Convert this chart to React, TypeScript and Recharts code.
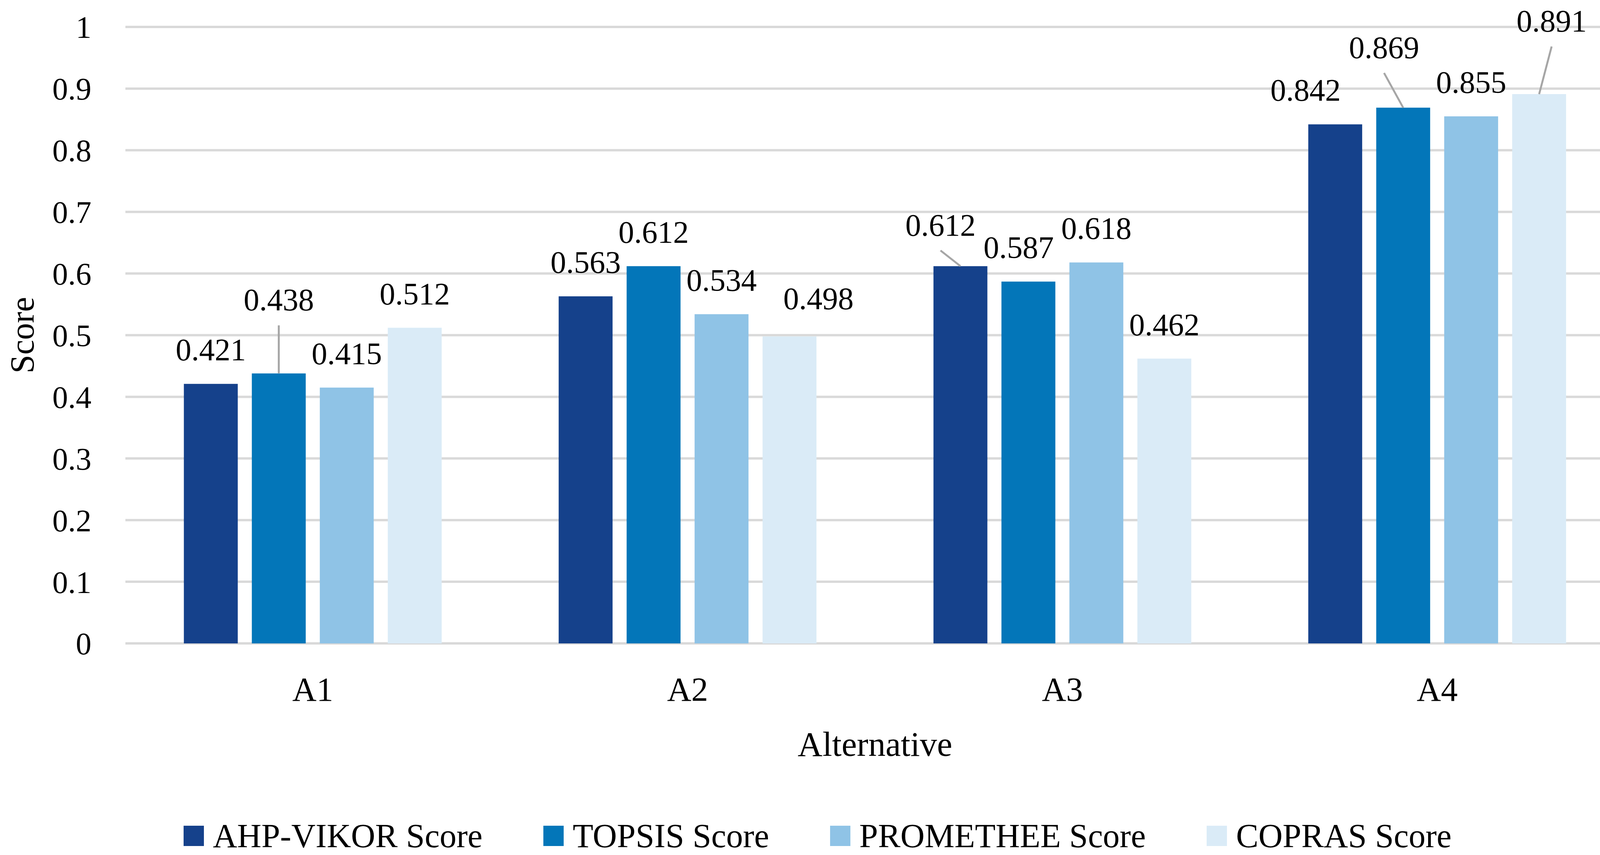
import React from 'react';
import { BarChart, Bar, XAxis, YAxis, CartesianGrid, Legend } from 'recharts';

const categories = ['A1', 'A2', 'A3', 'A4'];
const ahpVikorScore = [0.421, 0.563, 0.612, 0.842];
const topsisScore = [0.438, 0.612, 0.587, 0.869];
const prometheeScore = [0.415, 0.534, 0.618, 0.855];
const coprasScore = [0.512, 0.498, 0.462, 0.891];
const yTicks = [0, 0.1, 0.2, 0.3, 0.4, 0.5, 0.6, 0.7, 0.8, 0.9, 1];

const SERIES = [
    { key: 'ahp', name: 'AHP-VIKOR Score', color: '#15418B', values: ahpVikorScore },
    { key: 'topsis', name: 'TOPSIS Score', color: '#0376B9', values: topsisScore },
    { key: 'promethee', name: 'PROMETHEE Score', color: '#8FC3E6', values: prometheeScore },
    { key: 'copras', name: 'COPRAS Score', color: '#DAEBF7', values: coprasScore },
];

const chartData = categories.map((name, i) => {
    const row: { [key: string]: any } = { name };
    SERIES.forEach((s) => {
        row[s.key] = s.values[i];
    });
    return row;
});

const W = 4186;
const H = 2190;
const FONT = "'Liberation Serif', 'Times New Roman', serif";
const NUM_FS = 80; // numbers: ticks and data labels
const TXT_FS = 86; // words: legend, titles

// Labels that were moved by hand in the original (Excel) chart, in px
const LABEL_NUDGE: { [key: string]: { dx: number; dy: number; leader?: boolean } } = {
    'topsis-0': { dx: 0, dy: -101, leader: true },
    'copras-1': { dx: 74, dy: -10 },
    'ahp-2': { dx: -51, dy: -18, leader: true },
    'topsis-2': { dx: -25, dy: 0 },
    'ahp-3': { dx: -76, dy: 0 },
    'topsis-3': { dx: -49, dy: -67, leader: true },
    'copras-3': { dx: 32, dy: -100, leader: true },
};

const makeLabel = (seriesKey: string) => (props: any) => {
    const vb = props.viewBox || props;
    const x = Number(vb.x ?? props.x);
    const y = Number(vb.y ?? props.y);
    const width = Number(vb.width ?? props.width);
    const height = Number(vb.height ?? props.height);
    if ([x, y, width].some((v) => isNaN(v))) return null;
    const top = height < 0 ? y + height : y;
    const cx = x + width / 2;
    const nudge = LABEL_NUDGE[`${seriesKey}-${props.index}`] || { dx: 0, dy: 0 };
    const lx = cx + nudge.dx;
    const baseline = top - 60 + nudge.dy;
    return (
        <g>
            {nudge.leader && (
                <line x1={cx} y1={top} x2={lx} y2={baseline + 38} stroke="#A6A6A6" strokeWidth={5} />
            )}
            <text x={lx} y={baseline} textAnchor="middle" fill="#000" style={{ fontSize: NUM_FS, fontFamily: FONT }}>
                {Number(props.value).toFixed(3)}
            </text>
        </g>
    );
};

const LegendContent = () => (
    <div
        style={{
            display: 'flex',
            justifyContent: 'center',
            alignItems: 'center',
            height: 98,
            fontFamily: FONT,
            fontSize: TXT_FS,
            color: '#000',
        }}
    >
        {SERIES.map((s, i) => (
            <div key={s.key} style={{ display: 'flex', alignItems: 'center', marginLeft: i ? 156 : 0 }}>
                <span style={{ display: 'inline-block', width: 52, height: 52, background: s.color, marginRight: 23 }} />
                <span style={{ lineHeight: 1, whiteSpace: 'nowrap' }}>{s.name}</span>
            </div>
        ))}
    </div>
);

const YTitle = (props: any) => {
    const vb = props.viewBox || {};
    const cy = (vb.y ?? 0) + (vb.height ?? 0) / 2;
    return (
        <text x={86} y={cy} transform={`rotate(-90, 86, ${cy})`} textAnchor="middle" fill="#000" style={{ fontSize: TXT_FS, fontFamily: FONT }}>
            Score
        </text>
    );
};

const XTitle = (props: any) => {
    const vb = props.viewBox || {};
    const cx = (vb.x ?? 0) + (vb.width ?? 0) / 2;
    return (
        <text x={cx} y={(vb.y ?? 0) + 288} textAnchor="middle" fill="#000" style={{ fontSize: 88, fontFamily: FONT }}>
            Alternative
        </text>
    );
};

const App: React.FC = () => {
    return (
        <div style={{ position: 'absolute', left: 0, top: 0, width: W, height: H, background: '#fff', fontFamily: FONT }}>
            <BarChart
                width={W}
                height={H}
                data={chartData}
                margin={{ top: 69, right: 27, bottom: 0, left: 0 }}
                barCategoryGap="15.6%"
                barGap={36}
            >
                <CartesianGrid vertical={false} stroke="#D9D9D9" strokeWidth={6} />
                <XAxis
                    dataKey="name"
                    axisLine={false}
                    tickLine={false}
                    tickSize={0}
                    tickMargin={86}
                    height={444}
                    tick={{ fill: '#000', fontSize: TXT_FS, fontFamily: FONT }}
                    label={XTitle}
                />
                <YAxis
                    domain={[0, 1]}
                    ticks={yTicks}
                    interval={0}
                    axisLine={false}
                    tickLine={false}
                    tickSize={0}
                    tickMargin={87}
                    width={321}
                    tickFormatter={(v: number) => String(Number(v.toFixed(1)))}
                    tick={{ fill: '#000', fontSize: NUM_FS, fontFamily: FONT }}
                    label={YTitle}
                />
                <Legend
                    verticalAlign="bottom"
                    content={LegendContent}
                    wrapperStyle={{ left: 0, width: W, bottom: 0 }}
                />
                {SERIES.map((s) => (
                    <Bar
                        key={s.key}
                        dataKey={s.key}
                        name={s.name}
                        fill={s.color}
                        isAnimationActive={false}
                        label={makeLabel(s.key)}
                    />
                ))}
            </BarChart>
        </div>
    );
};

export default App;
